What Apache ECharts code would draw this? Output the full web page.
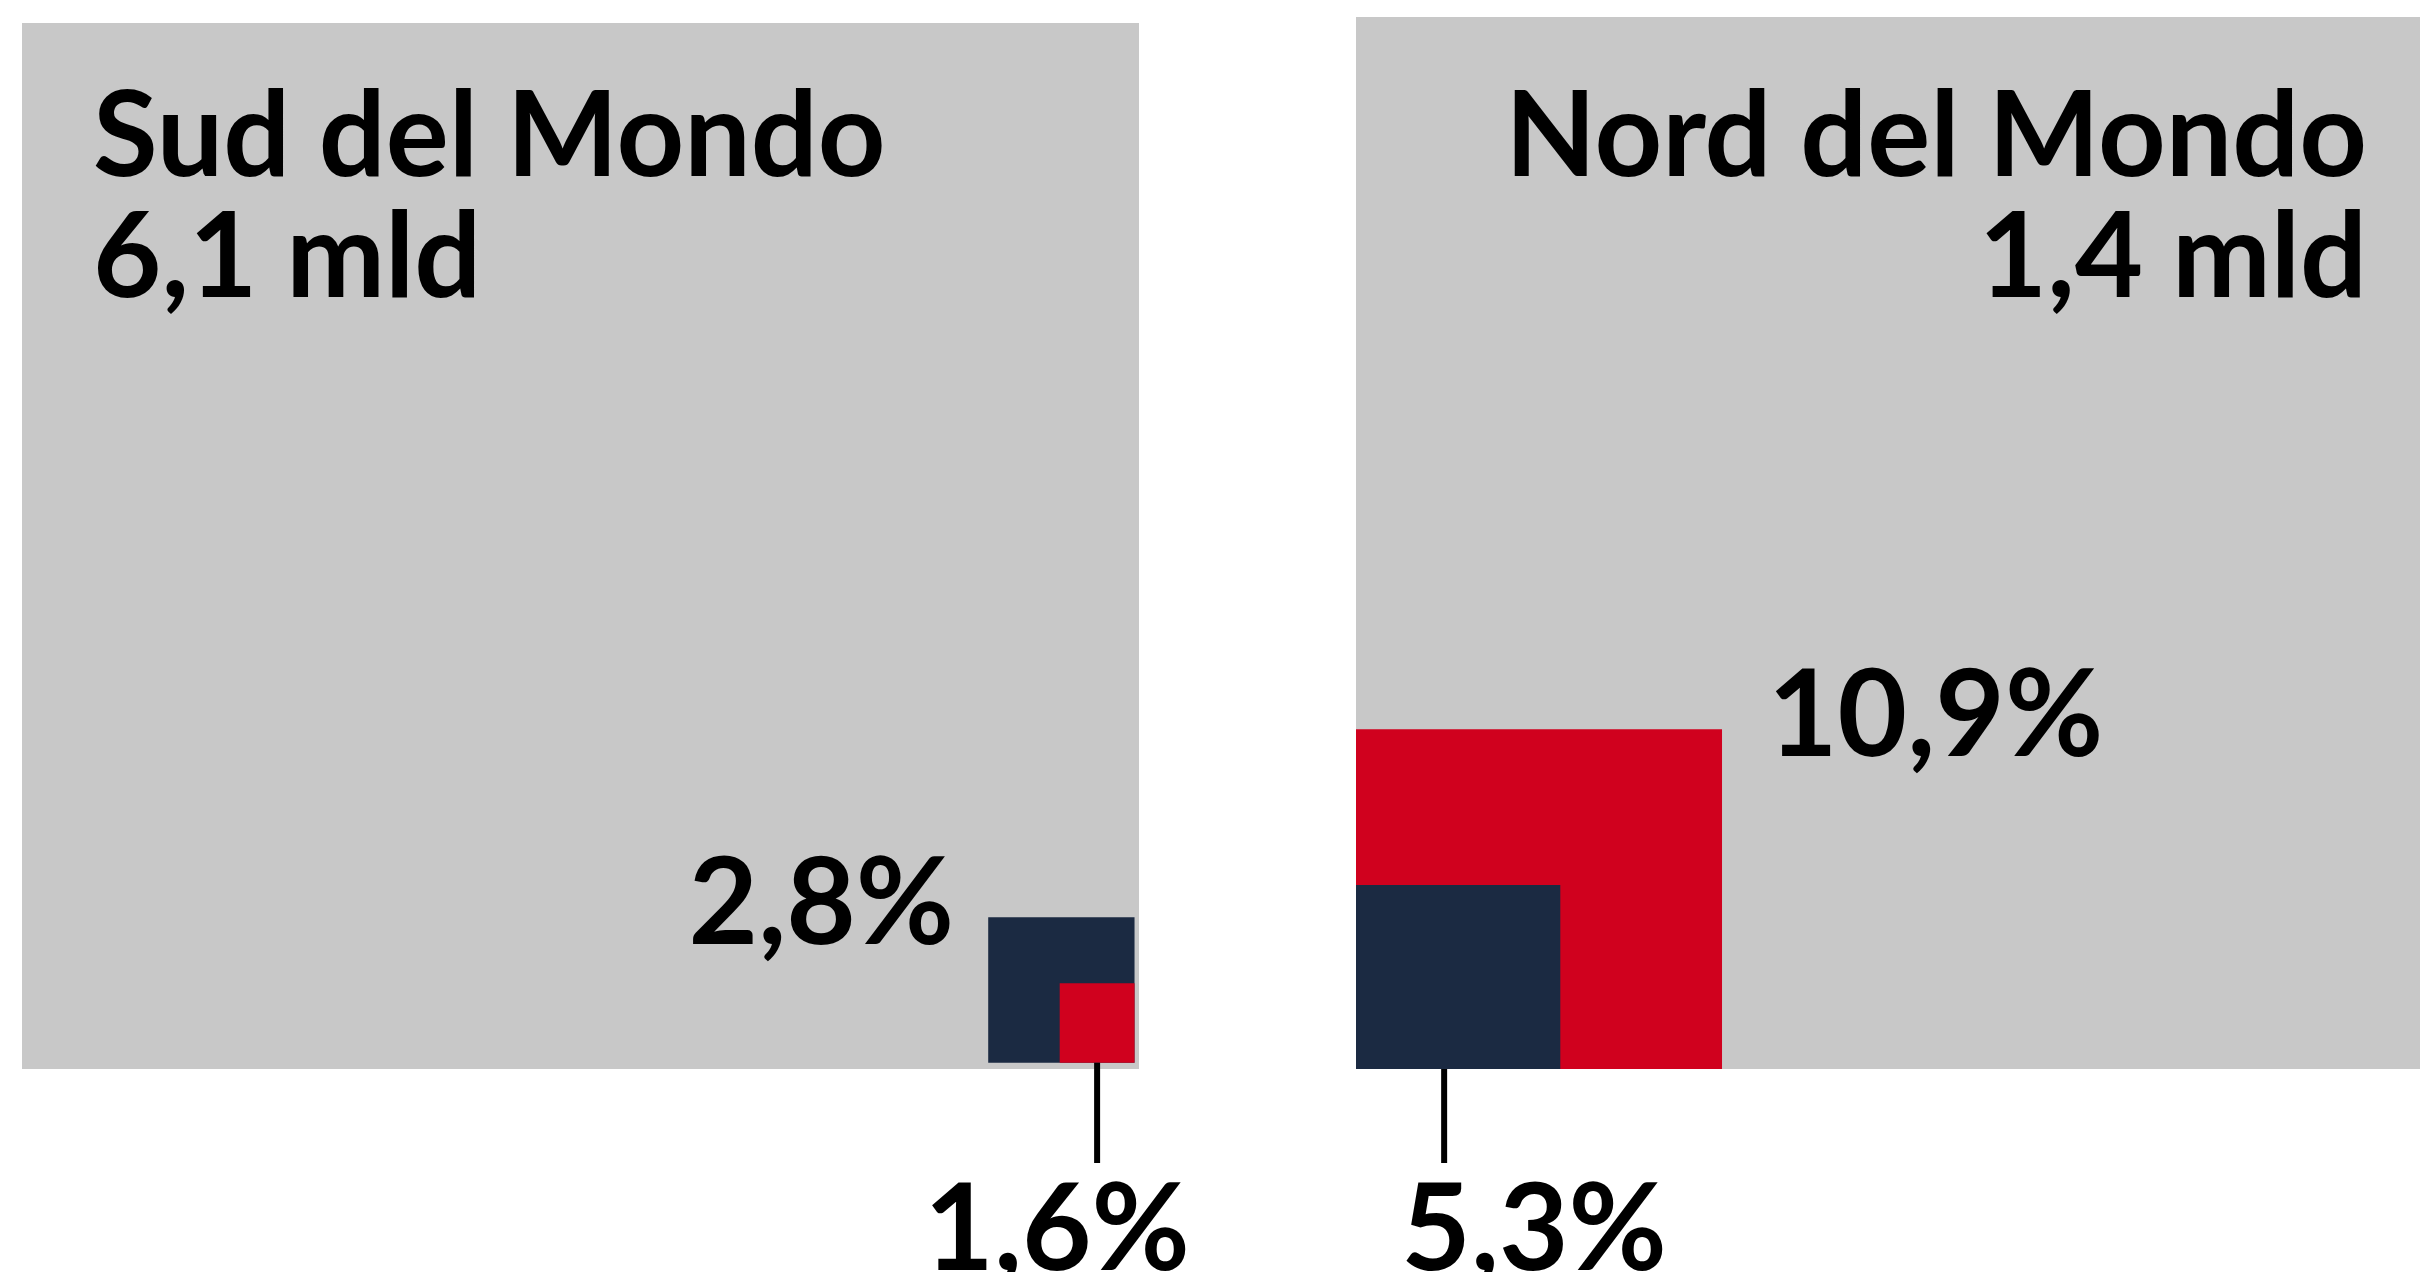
<!DOCTYPE html>
<html>
<head>
<meta charset="utf-8">
<script src="https://cdn.jsdelivr.net/npm/echarts@6/dist/echarts.min.js"></script>
<style>
  html, body { margin: 0; padding: 0; background: #ffffff; }
  #chart { width: 2420px; height: 1272px; }
</style>
</head>
<body>
<div id="chart"></div>
<script>
// dati
var regions = ['Sud del Mondo', 'Nord del Mondo'];
var population = [6.1, 1.4];       // miliardi
var navyShare = [2.8, 5.3];        // %
var redShare = [1.6, 10.9];        // %
// estensione dei quadrati sul pannello: [x0, y0, x1, y1] su assi 0-100
var navyBox = [[86.5, 0.6, 99.6, 14.5], [0, 0, 19.2, 17.5]];
var redBox = [[92.9, 0.6, 99.6, 8.2], [0, 0, 34.4, 32.3]];

var GREY = '#c8c8c8';
var NAVY = '#1b2a42';
var RED = '#d0011e';
var FONT = 'Lato';

// scostamenti della linea e dell'etichetta sotto, per pannello
var leaderShift = [0, -14];
var belowLabelShift = [-40, 90];

function fmt(v) {
    return v.toFixed(1).replace('.', ',');
}

var myChart = echarts.init(document.getElementById('chart'), null, { renderer: 'canvas' });

// righe per ogni pannello: [x0, y0, x1, y1, quota, colore]
function panelRows(i) {
    var rows = [
        navyBox[i].concat([navyShare[i], 0]),
        redBox[i].concat([redShare[i], 1])
    ];
    // il quadrato più grande sotto, il più piccolo sopra
    rows.sort(function (a, b) {
        return (b[2] - b[0]) * (b[3] - b[1]) - (a[2] - a[0]) * (a[3] - a[1]);
    });
    return rows;
}

function makeRender(panel) {
    return function (params, api) {
        var x0 = api.value(0), y0 = api.value(1), x1 = api.value(2), y1 = api.value(3);
        var share = api.value(4);
        var tl = api.coord([x0, y1]);
        var br = api.coord([x1, y0]);
        var base = api.coord([0, 0]);
        var children = [{
            type: 'rect',
            shape: { x: tl[0], y: tl[1], width: br[0] - tl[0], height: br[1] - tl[1] },
            style: { fill: api.value(5) === 0 ? NAVY : RED }
        }];
        var label = fmt(share) + '%';
        if (params.dataIndex === 0) {
            // quadrato grande: etichetta a fianco
            var onLeft = x0 > 50;
            children.push({
                type: 'text',
                style: {
                    text: label,
                    x: onLeft ? tl[0] - 34 : br[0] + 46,
                    y: tl[1] - 12,
                    align: onLeft ? 'right' : 'left',
                    verticalAlign: 'middle',
                    font: '700 120px ' + FONT,
                    fill: '#000'
                }
            });
        } else {
            // quadrato piccolo: linea verso il basso ed etichetta
            var cx = (tl[0] + br[0]) / 2 + leaderShift[panel];
            var yEnd = base[1] + 94;
            children.push({
                type: 'line',
                shape: { x1: cx, y1: br[1], x2: cx, y2: yEnd },
                style: { stroke: '#000', lineWidth: 6 }
            });
            children.push({
                type: 'text',
                style: {
                    text: label,
                    x: cx + belowLabelShift[panel],
                    y: yEnd + 68,
                    align: 'center',
                    verticalAlign: 'middle',
                    font: '700 120px ' + FONT,
                    fill: '#000'
                }
            });
        }
        return { type: 'group', children: children };
    };
}

var titleStyle = {
    fontFamily: FONT,
    fontWeight: 700,
    fontSize: 118,
    lineHeight: 121,
    color: '#000'
};

option = {
    animation: false,
    title: [
        {
            text: regions[0] + '\n' + fmt(population[0]) + ' mld',
            left: 88,
            top: 72,
            textStyle: titleStyle
        },
        {
            text: regions[1] + '\n' + fmt(population[1]) + ' mld',
            left: 2362,
            top: 72,
            textAlign: 'right',
            textStyle: titleStyle
        }
    ],
    grid: [
        { left: 22, top: 23, width: 1117, height: 1046, show: true, backgroundColor: GREY, borderWidth: 0 },
        { left: 1356, top: 17, width: 1064, height: 1052, show: true, backgroundColor: GREY, borderWidth: 0 }
    ],
    xAxis: [
        { gridIndex: 0, type: 'value', min: 0, max: 100, show: false },
        { gridIndex: 1, type: 'value', min: 0, max: 100, show: false }
    ],
    yAxis: [
        { gridIndex: 0, type: 'value', min: 0, max: 100, show: false },
        { gridIndex: 1, type: 'value', min: 0, max: 100, show: false }
    ],
    series: [
        {
            type: 'custom',
            xAxisIndex: 0,
            yAxisIndex: 0,
            renderItem: makeRender(0),
            data: panelRows(0)
        },
        {
            type: 'custom',
            xAxisIndex: 1,
            yAxisIndex: 1,
            renderItem: makeRender(1),
            data: panelRows(1)
        }
    ]
};

myChart.setOption(option);
</script>
</body>
</html>
